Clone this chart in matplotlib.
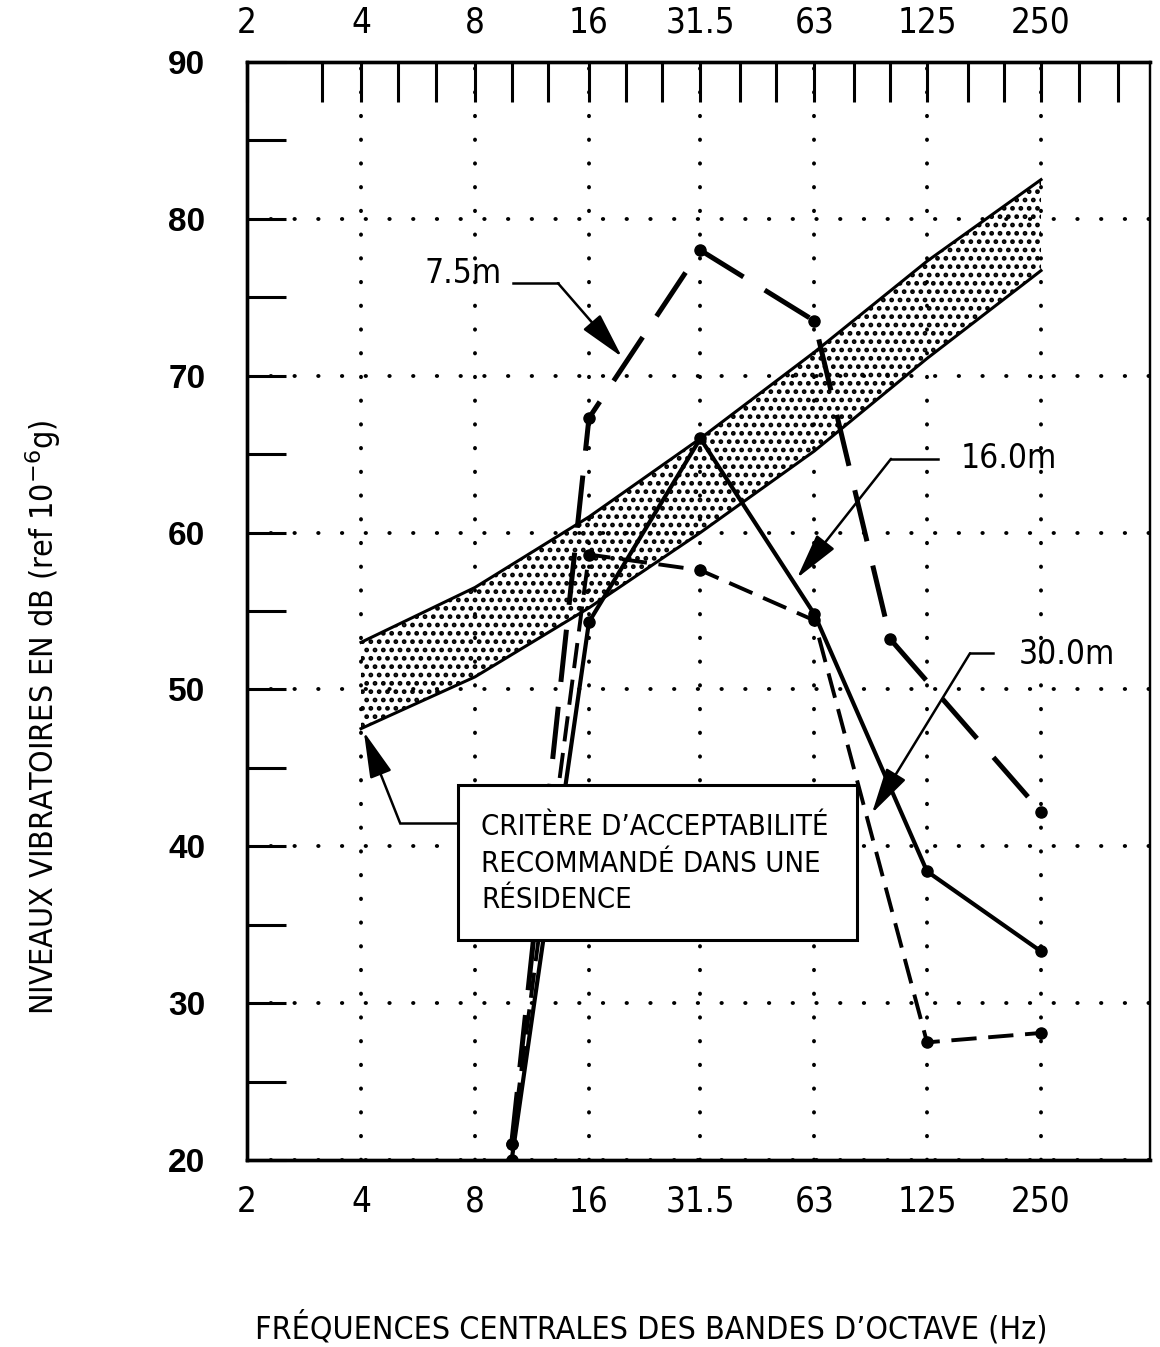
import numpy as np
import matplotlib.pyplot as plt
from matplotlib import font_manager
from matplotlib.font_manager import FontProperties
from matplotlib.ticker import NullLocator, NullFormatter, FixedLocator
from matplotlib.patches import Rectangle

# look for any condensed / narrow face, otherwise Liberation Sans
cands = [f for f in font_manager.fontManager.ttflist
         if ('Narrow' in f.name or 'Condensed' in f.name or 'Condensed' in f.fname
             or 'Narrow' in f.fname or str(f.stretch) in ('condensed', 'semi-condensed'))
         and f.weight in (400, 'normal', 'regular') and f.style == 'normal']
if cands:
    NARROW = dict(fname=cands[0].fname)
else:
    NARROW = dict(family='Liberation Sans')


def fp(size):
    return FontProperties(size=size, **NARROW)


plt.rcParams['hatch.linewidth'] = 2.2

# octave band centres (labels) and third-octave ticks on the top axis
octaves = [2, 4, 8, 16, 31.5, 63, 125, 250]
octave_labels = ['2', '4', '8', '16', '31.5', '63', '125', '250']
thirds = [3.15, 4, 5, 6.3, 8, 10, 12.5, 16, 20, 25, 31.5, 40, 50, 63, 80,
          100, 125, 160, 200, 250, 315, 400]

# recommended acceptability criterion (band)
band_f = [4, 8, 16, 31.5, 63, 125, 250]
band_hi = [53.0, 56.5, 61.0, 66.0, 71.5, 77.3, 82.5]
band_lo = [47.5, 50.8, 55.2, 60.0, 65.2, 71.1, 76.7]

# measured levels at 7.5 m, 16 m, 30 m
f_75 = [10, 16, 31.5, 63, 100, 250]
db_75 = [21, 67.3, 78.0, 73.5, 53.2, 42.2]
f_16 = [10, 16, 31.5, 63, 125, 250]
db_16 = [20, 54.3, 66.0, 54.8, 38.4, 33.3]
f_30 = [10, 16, 31.5, 63, 125, 250]
db_30 = [21, 58.6, 57.6, 54.4, 27.5, 28.1]

fig = plt.figure(figsize=(11.6, 13.47), dpi=100)
ax = fig.add_axes([247/1160, 1-1160/1347, (1150-247)/1160, (1160-62)/1347])
ax.set_xscale('log', base=2)
ax.set_xlim(2, 485)
ax.set_ylim(20, 90)

# band
ax.fill_between(band_f, band_lo, band_hi, facecolor='none', edgecolor='black',
                hatch='..', linewidth=0)
ax.plot(band_f, band_hi, color='black', lw=2.2)
ax.plot(band_f, band_lo, color='black', lw=2.2)

# series
ax.plot(f_75, db_75, color='black', lw=3.6, dashes=(10.5, 5), marker='o', ms=8)
ax.plot(f_16, db_16, color='black', lw=3.0, marker='o', ms=8)
ax.plot(f_30, db_30, color='black', lw=2.8, dashes=(6.5, 3), marker='o', ms=8)

# axes / ticks
for s in ax.spines.values():
    s.set_linewidth(2.4)
ax.spines['right'].set_linewidth(1.6)
ax.set_xticks(octaves, octave_labels)
ax.xaxis.set_minor_locator(NullLocator())
ax.tick_params(axis='x', which='major', length=0, pad=18, top=False)
for t in ax.get_xticklabels():
    t.set_fontproperties(fp(25))

ax.set_yticks(range(20, 91, 10))
ax.yaxis.set_minor_locator(FixedLocator(range(25, 90, 10)))
ax.tick_params(axis='y', which='both', direction='in', length=28, width=2.2,
               pad=30, labelsize=24, right=False)
for t in ax.get_yticklabels():
    t.set_fontweight('bold')
    t.set_family('Liberation Sans')

ax.grid(True, which='major', color='black', linestyle=(0, (0.1, 6)),
        lw=2.8, dash_capstyle='round')

ax2 = ax.twiny()
ax2.set_xscale('log', base=2)
ax2.set_xlim(ax.get_xlim())
ax2.set_xticks(octaves, octave_labels)
ax2.xaxis.set_minor_locator(FixedLocator(thirds))
ax2.xaxis.set_minor_formatter(NullFormatter())
ax2.tick_params(axis='x', which='both', direction='in', length=29, width=2.2,
                pad=16)
for t in ax2.get_xticklabels():
    t.set_fontproperties(fp(25))
for s in ax2.spines.values():
    s.set_linewidth(2.4)
ax2.spines['right'].set_linewidth(1.6)

# annotations
arrow = dict(arrowstyle='-|>,head_length=1.3,head_width=0.32', color='black',
             lw=1.8, mutation_scale=22, shrinkA=0, shrinkB=0)

ax.text(7.44, 76.5, '7.5m', fontproperties=fp(24), ha='center', va='center')
ax.plot([10.08, 13.25], [75.9, 75.9], color='black', lw=1.8)
ax.annotate('', xy=(19.55, 71.2), xytext=(13.25, 75.9), arrowprops=arrow)

ax.text(205.7, 64.7, '16.0m', fontproperties=fp(24), ha='center', va='center')
ax.plot([133.5, 100.4], [64.7, 64.7], color='black', lw=1.8)
ax.annotate('', xy=(56.7, 57.1), xytext=(100.4, 64.7), arrowprops=arrow)

ax.text(292.7, 52.25, '30.0m', fontproperties=fp(24), ha='center', va='center')
ax.plot([186.6, 162.3], [52.3, 52.3], color='black', lw=1.8)
ax.annotate('', xy=(89.4, 42.1), xytext=(162.3, 52.3), arrowprops=arrow)

ax.add_patch(Rectangle((7.21, 34.0), 81.6 - 7.21, 43.9 - 34.0, facecolor='white',
                       edgecolor='black', lw=2.2, zorder=5))
ax.text(8.3, 38.9, 'CRITÈRE D’ACCEPTABILITÉ\nRECOMMANDÉ DANS UNE\nRÉSIDENCE',
        fontproperties=fp(21), ha='left', va='center', linespacing=1.4,
        zorder=6)
ax.plot([7.21, 5.07], [41.5, 41.5], color='black', lw=1.8)
ax.annotate('', xy=(4.07, 47.3), xytext=(5.07, 41.5), arrowprops=arrow)

fig.text(43/1160, 1-717/1347, 'NIVEAUX VIBRATOIRES EN dB (ref 10$^{-6}$g)',
         rotation=90, ha='center', va='center', fontproperties=fp(23))
fig.text(651/1160, 1-1328/1347, 'FRÉQUENCES CENTRALES DES BANDES D’OCTAVE (Hz)',
         ha='center', va='center', fontproperties=fp(23))

fig.savefig('out.png', dpi=100, facecolor='white')
